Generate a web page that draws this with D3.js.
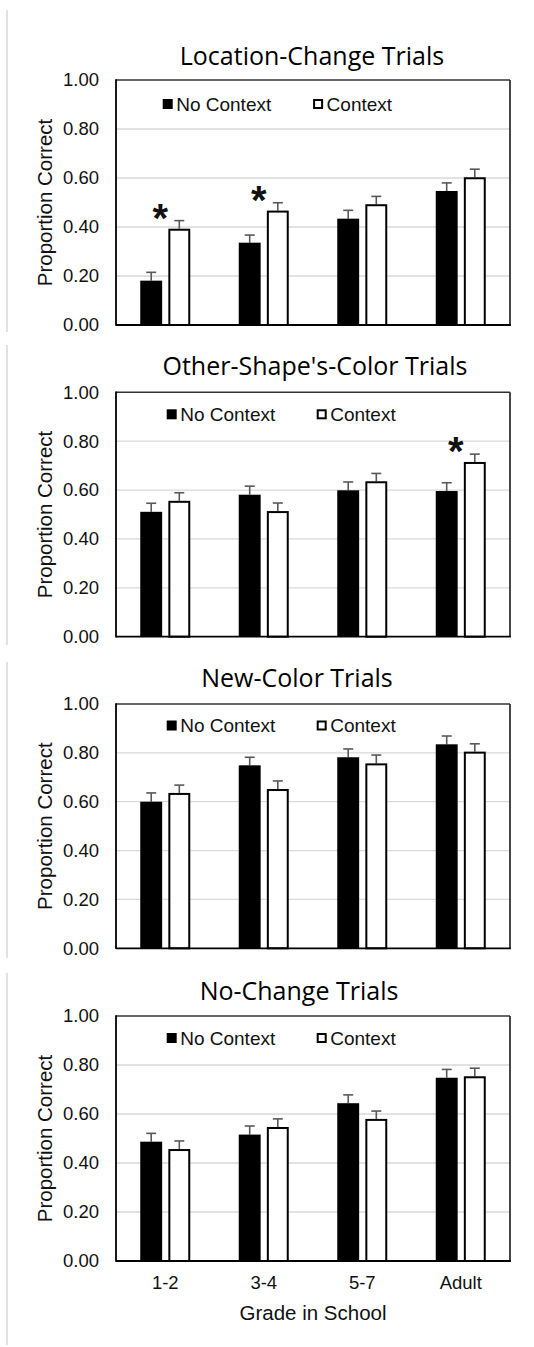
<!DOCTYPE html>
<html><head><meta charset="utf-8">
<script src="https://cdn.jsdelivr.net/npm/d3@7"></script>
<style>body{margin:0;background:#fff}svg{display:block}</style>
</head><body>
<script>
// ---- data ----
const categories = ["1-2", "3-4", "5-7", "Adult"];
const seriesNames = ["No Context", "Context"];
const panelTitles = ["Location-Change Trials", "Other-Shape's-Color Trials", "New-Color Trials", "No-Change Trials"];
const yTickValues = [0, 0.2, 0.4, 0.6, 0.8, 1.0];
const yAxisTitle = "Proportion Correct";
const xAxisTitle = "Grade in School";

const locationNoContext = [0.181, 0.336, 0.434, 0.547];
const locationNoContextErr = [0.034, 0.031, 0.034, 0.033];
const locationContext = [0.393, 0.467, 0.493, 0.603];
const locationContextErr = [0.033, 0.032, 0.032, 0.033];
const locationStars = [1, 1, 0, 0];

const otherNoContext = [0.511, 0.581, 0.599, 0.596];
const otherNoContextErr = [0.035, 0.035, 0.034, 0.034];
const otherContext = [0.556, 0.514, 0.636, 0.715];
const otherContextErr = [0.033, 0.033, 0.032, 0.032];
const otherStars = [0, 0, 0, 1];

const newColorNoContext = [0.600, 0.749, 0.782, 0.835];
const newColorNoContextErr = [0.036, 0.033, 0.034, 0.034];
const newColorContext = [0.636, 0.652, 0.757, 0.805];
const newColorContextErr = [0.032, 0.033, 0.034, 0.032];
const newColorStars = [0, 0, 0, 0];

const noChangeNoContext = [0.487, 0.516, 0.644, 0.748];
const noChangeNoContextErr = [0.034, 0.035, 0.034, 0.034];
const noChangeContext = [0.457, 0.547, 0.580, 0.754];
const noChangeContextErr = [0.033, 0.033, 0.032, 0.033];
const noChangeStars = [0, 0, 0, 0];

// ---- layout (positions only) ----
const W = 534, H = 1347;
const plotLeft = 116, plotRight = 510;
const panelLayout = [
  {top: 80,    bottom: 325,   titleX: 312, titleY: 65,   legendDy: 24, legendShift: -4, border: [10, 332]},
  {top: 392.3, bottom: 636.7, titleX: 315, titleY: 375,  legendDy: 22, legendShift: 0,  border: [345, 645]},
  {top: 704,   bottom: 948.3, titleX: 297, titleY: 687,  legendDy: 21.5, legendShift: 0, border: [662, 958]},
  {top: 1016,  bottom: 1261,  titleX: 299, titleY: 1000, legendDy: 22, legendShift: 0,  border: [973, 1345]}
];

const panelData = [
  {nc: locationNoContext, ncE: locationNoContextErr, c: locationContext, cE: locationContextErr, stars: locationStars},
  {nc: otherNoContext, ncE: otherNoContextErr, c: otherContext, cE: otherContextErr, stars: otherStars},
  {nc: newColorNoContext, ncE: newColorNoContextErr, c: newColorContext, cE: newColorContextErr, stars: newColorStars},
  {nc: noChangeNoContext, ncE: noChangeNoContextErr, c: noChangeContext, cE: noChangeContextErr, stars: noChangeStars}
];

const svg = d3.select("body").append("svg").attr("width", W).attr("height", H);
const tickFont = "'Liberation Sans', Arial, sans-serif";
const titleFont = "'Open Sans', 'Noto Sans', sans-serif";

const x0 = d3.scaleBand().domain(categories).range([plotLeft, plotRight]).paddingInner(0).paddingOuter(0);
const x1 = d3.scaleBand().domain(seriesNames).range([x0.bandwidth() / 2 - 25, x0.bandwidth() / 2 + 25]).paddingInner(0.22);

panelLayout.forEach((L, pi) => {
  const D = panelData[pi];
  const g = svg.append("g");
  const y = d3.scaleLinear().domain([0, 1]).range([L.bottom, L.top]);

  // left page border
  g.append("line").attr("x1", 7).attr("x2", 7).attr("y1", L.border[0]).attr("y2", L.border[1])
    .attr("stroke", "#d9d9d9").attr("stroke-width", 1.5);

  // title
  g.append("text").attr("x", L.titleX).attr("y", L.titleY).attr("text-anchor", "middle")
    .attr("font-family", titleFont).attr("font-size", 25).attr("fill", "#000").text(panelTitles[pi]);

  // gridlines
  g.append("g").selectAll("line").data(yTickValues.filter(v => v > 0 && v < 1)).join("line")
    .attr("x1", plotLeft).attr("x2", plotRight).attr("y1", d => y(d)).attr("y2", d => y(d))
    .attr("stroke", "#d9d9d9").attr("stroke-width", 1.3);

  // y axis tick labels
  const yAxis = d3.axisLeft(y).tickValues(yTickValues).tickFormat(d3.format(".2f")).tickSize(0).tickPadding(17);
  const ya = g.append("g").attr("transform", `translate(${plotLeft},0)`).call(yAxis);
  ya.select(".domain").remove();
  ya.selectAll("text").attr("font-family", tickFont).attr("font-size", 18.5).attr("fill", "#111");

  // y axis title
  g.append("text").attr("transform", `translate(52,${(L.top + L.bottom) / 2}) rotate(-90)`)
    .attr("text-anchor", "middle").attr("font-family", tickFont).attr("font-size", 20.5).attr("fill", "#111")
    .text(yAxisTitle);

  // bars
  const rows = categories.map((c, i) => ({cat: c, i,
    vals: [{s: seriesNames[0], v: D.nc[i], e: D.ncE[i]}, {s: seriesNames[1], v: D.c[i], e: D.cE[i]}]}));
  const grp = g.append("g").selectAll("g").data(rows).join("g")
    .attr("transform", d => `translate(${x0(d.cat)},0)`);

  // error bars (behind bars)
  const eb = grp.selectAll("g.eb").data(d => d.vals).join("g").attr("class", "eb");
  eb.append("line").attr("x1", d => x1(d.s) + x1.bandwidth() / 2).attr("x2", d => x1(d.s) + x1.bandwidth() / 2)
    .attr("y1", d => y(d.v)).attr("y2", d => y(d.v + d.e)).attr("stroke", "#595959").attr("stroke-width", 1.6);
  eb.append("line").attr("x1", d => x1(d.s) + x1.bandwidth() / 2 - 5).attr("x2", d => x1(d.s) + x1.bandwidth() / 2 + 5)
    .attr("y1", d => y(d.v + d.e)).attr("y2", d => y(d.v + d.e)).attr("stroke", "#595959").attr("stroke-width", 1.6);

  grp.selectAll("rect").data(d => d.vals).join("rect")
    .attr("x", d => d.s === seriesNames[0] ? x1(d.s) : x1(d.s) + 1)
    .attr("width", d => d.s === seriesNames[0] ? x1.bandwidth() : x1.bandwidth() - 2)
    .attr("y", d => y(d.v) + (d.s === seriesNames[0] ? 0 : 1))
    .attr("height", d => y(0) - y(d.v) - (d.s === seriesNames[0] ? 0 : 1))
    .attr("fill", d => d.s === seriesNames[0] ? "#000" : "#fff")
    .attr("stroke", d => d.s === seriesNames[0] ? "none" : "#000")
    .attr("stroke-width", 2);

  // significance stars
  rows.filter(d => D.stars[d.i]).forEach(d => {
    const cx = x0(d.cat) + x0.bandwidth() / 2 - 5;
    const cy = y(D.c[d.i] + D.cE[d.i]) - 10;
    g.append("text").attr("x", cx).attr("y", cy + 38 * 0.56).attr("text-anchor", "middle")
      .attr("font-family", tickFont).attr("font-weight", "bold").attr("font-size", 40).attr("fill", "#111").text("*");
  });

  // frame
  g.append("line").attr("x1", plotLeft).attr("x2", plotRight).attr("y1", L.top).attr("y2", L.top).attr("stroke", "#333").attr("stroke-width", 1.6);
  g.append("line").attr("x1", plotRight).attr("x2", plotRight).attr("y1", L.top).attr("y2", L.bottom).attr("stroke", "#333").attr("stroke-width", 1.8);
  g.append("line").attr("x1", plotLeft).attr("x2", plotLeft).attr("y1", L.top - 0.8).attr("y2", L.bottom + 0.8).attr("stroke", "#000").attr("stroke-width", 1.8);
  g.append("line").attr("x1", plotLeft).attr("x2", plotRight + 0.9).attr("y1", L.bottom).attr("y2", L.bottom).attr("stroke", "#000").attr("stroke-width", 1.8);

  // legend
  const ly = L.top + L.legendDy;
  const legendX = [166.7 + L.legendShift, 316.7 + L.legendShift * 0.9];
  seriesNames.forEach((s, si) => {
    const lx = legendX[si];
    g.append("rect").attr("x", si === 0 ? lx : lx + 1).attr("y", ly - 5 + (si === 0 ? 0 : 1))
      .attr("width", si === 0 ? 10 : 8).attr("height", si === 0 ? 10 : 8)
      .attr("fill", si === 0 ? "#000" : "#fff").attr("stroke", si === 0 ? "none" : "#000").attr("stroke-width", 2);
    g.append("text").attr("x", lx + 13.5).attr("y", ly + 6.5).attr("font-family", tickFont).attr("font-size", 19)
      .attr("fill", "#111").text(s);
  });

  // x axis labels (bottom panel only)
  if (pi === panelLayout.length - 1) {
    const xAxis = d3.axisBottom(x0).tickSize(0).tickPadding(15);
    const xa = g.append("g").attr("transform", `translate(0,${L.bottom})`).call(xAxis);
    xa.select(".domain").remove();
    xa.selectAll("text").attr("font-family", tickFont).attr("font-size", 18.5).attr("fill", "#111");
    g.append("text").attr("x", 313).attr("y", 1320).attr("text-anchor", "middle")
      .attr("font-family", tickFont).attr("font-size", 20.5).attr("fill", "#111").text(xAxisTitle);
  }
});
</script>
</body></html>
